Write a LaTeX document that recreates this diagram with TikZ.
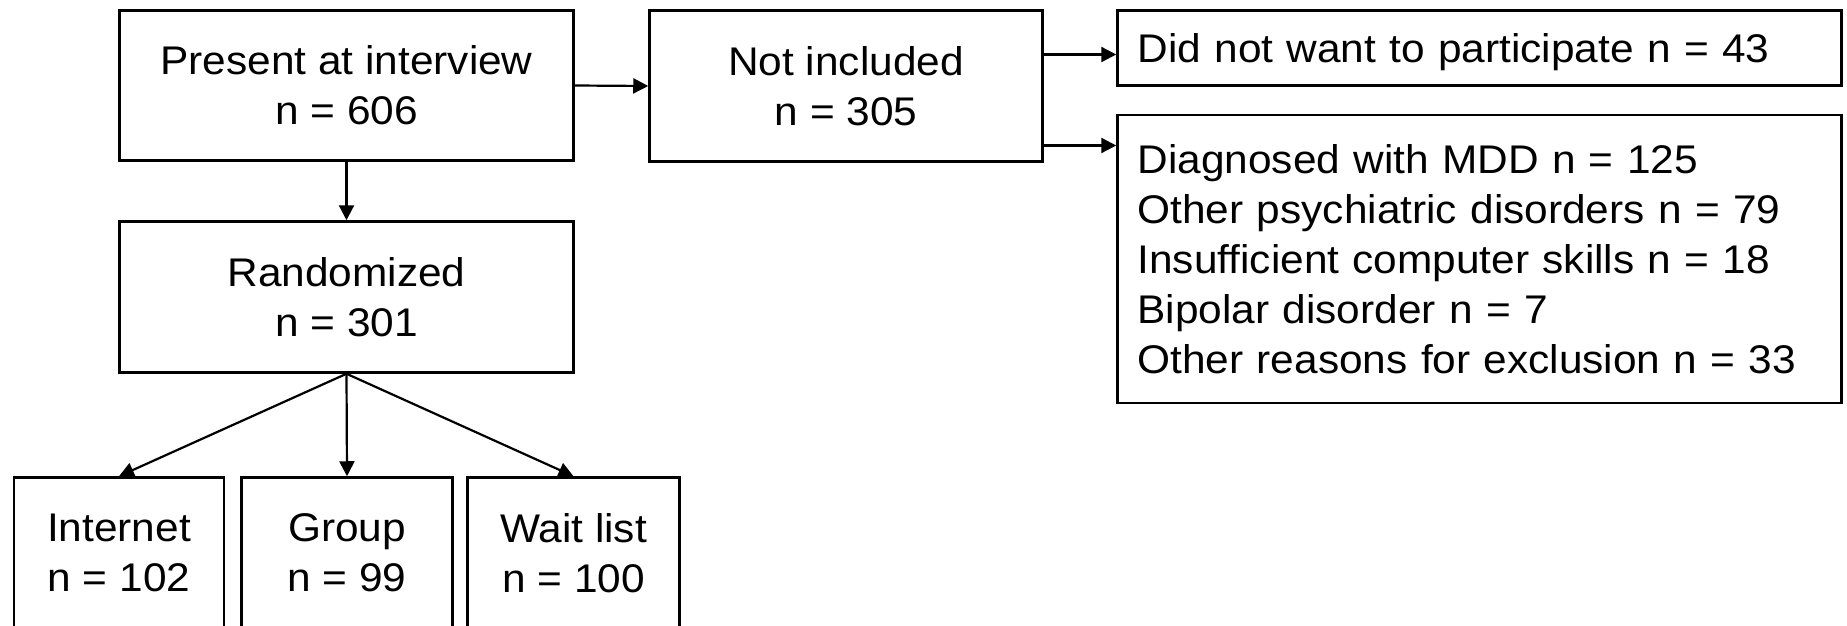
\documentclass[tikz,border=0pt]{standalone}
\usepackage{fontspec}
\setmainfont[FakeStretch=1.06]{Liberation Sans}
\usetikzlibrary{arrows.meta}
\begin{document}
\begin{tikzpicture}[x=1pt,y=-1pt,
  box/.style={draw=black, line width=2.5pt, inner sep=0pt, align=center,
    font=\fontsize{40}{50}\selectfont},
  listbox/.style={draw=black, line width=2.5pt, inner xsep=20pt, inner ysep=0pt,
    align=left, font=\fontsize{40}{50}\selectfont},
  arr/.style={line width=2.2pt, -{Triangle[length=15pt,width=15pt]}}]
\clip (0,0) rectangle (1847,626);
\fill[white] (0,0) rectangle (1847,626);
\node[box, minimum width=454pt, minimum height=150pt] (pres) at (346.5,85.5) {Present at interview\\n = 606};
\node[box, minimum width=393pt, minimum height=151pt] (notinc) at (846,86) {Not included\\n = 305};
\node[listbox, text width=684pt, minimum height=75pt, text height=28.5pt, text depth=0pt] (did) at (1479.5,48) {Did not want to participate n = 43};
\node[listbox, text width=684pt, minimum height=288pt] (diag) at (1479.5,259) {Diagnosed with MDD n = 125\\Other psychiatric disorders n = 79\\Insufficient computer skills n = 18\\Bipolar disorder n = 7\\Other reasons for exclusion n = 33};
\node[box, minimum width=454pt, minimum height=151pt] (rand) at (346.5,297) {Randomized\\n = 301};
\node[box, minimum width=210pt, minimum height=151pt] (int) at (119,553) {Internet\\n = 102};
\node[box, minimum width=211pt, minimum height=151pt] (grp) at (347,553) {Group\\n = 99};
\node[box, minimum width=212pt, minimum height=151pt] (wait) at (573.5,553) {Wait list\\n = 100};
\draw[arr] (pres.east) -- (notinc.west);
\draw[arr] (pres.south) -- (rand.north);
\draw[arr] ([yshift=31.5pt]notinc.east) coordinate (a1) -- (a1 -| did.west);
\draw[arr] ([yshift=-59.5pt]notinc.east) coordinate (a2) -- (a2 -| diag.west);
\draw[arr] (rand.south) -- (int.north);
\draw[arr] (rand.south) -- (grp.north);
\draw[arr] (rand.south) -- (wait.north);
\end{tikzpicture}
\end{document}
